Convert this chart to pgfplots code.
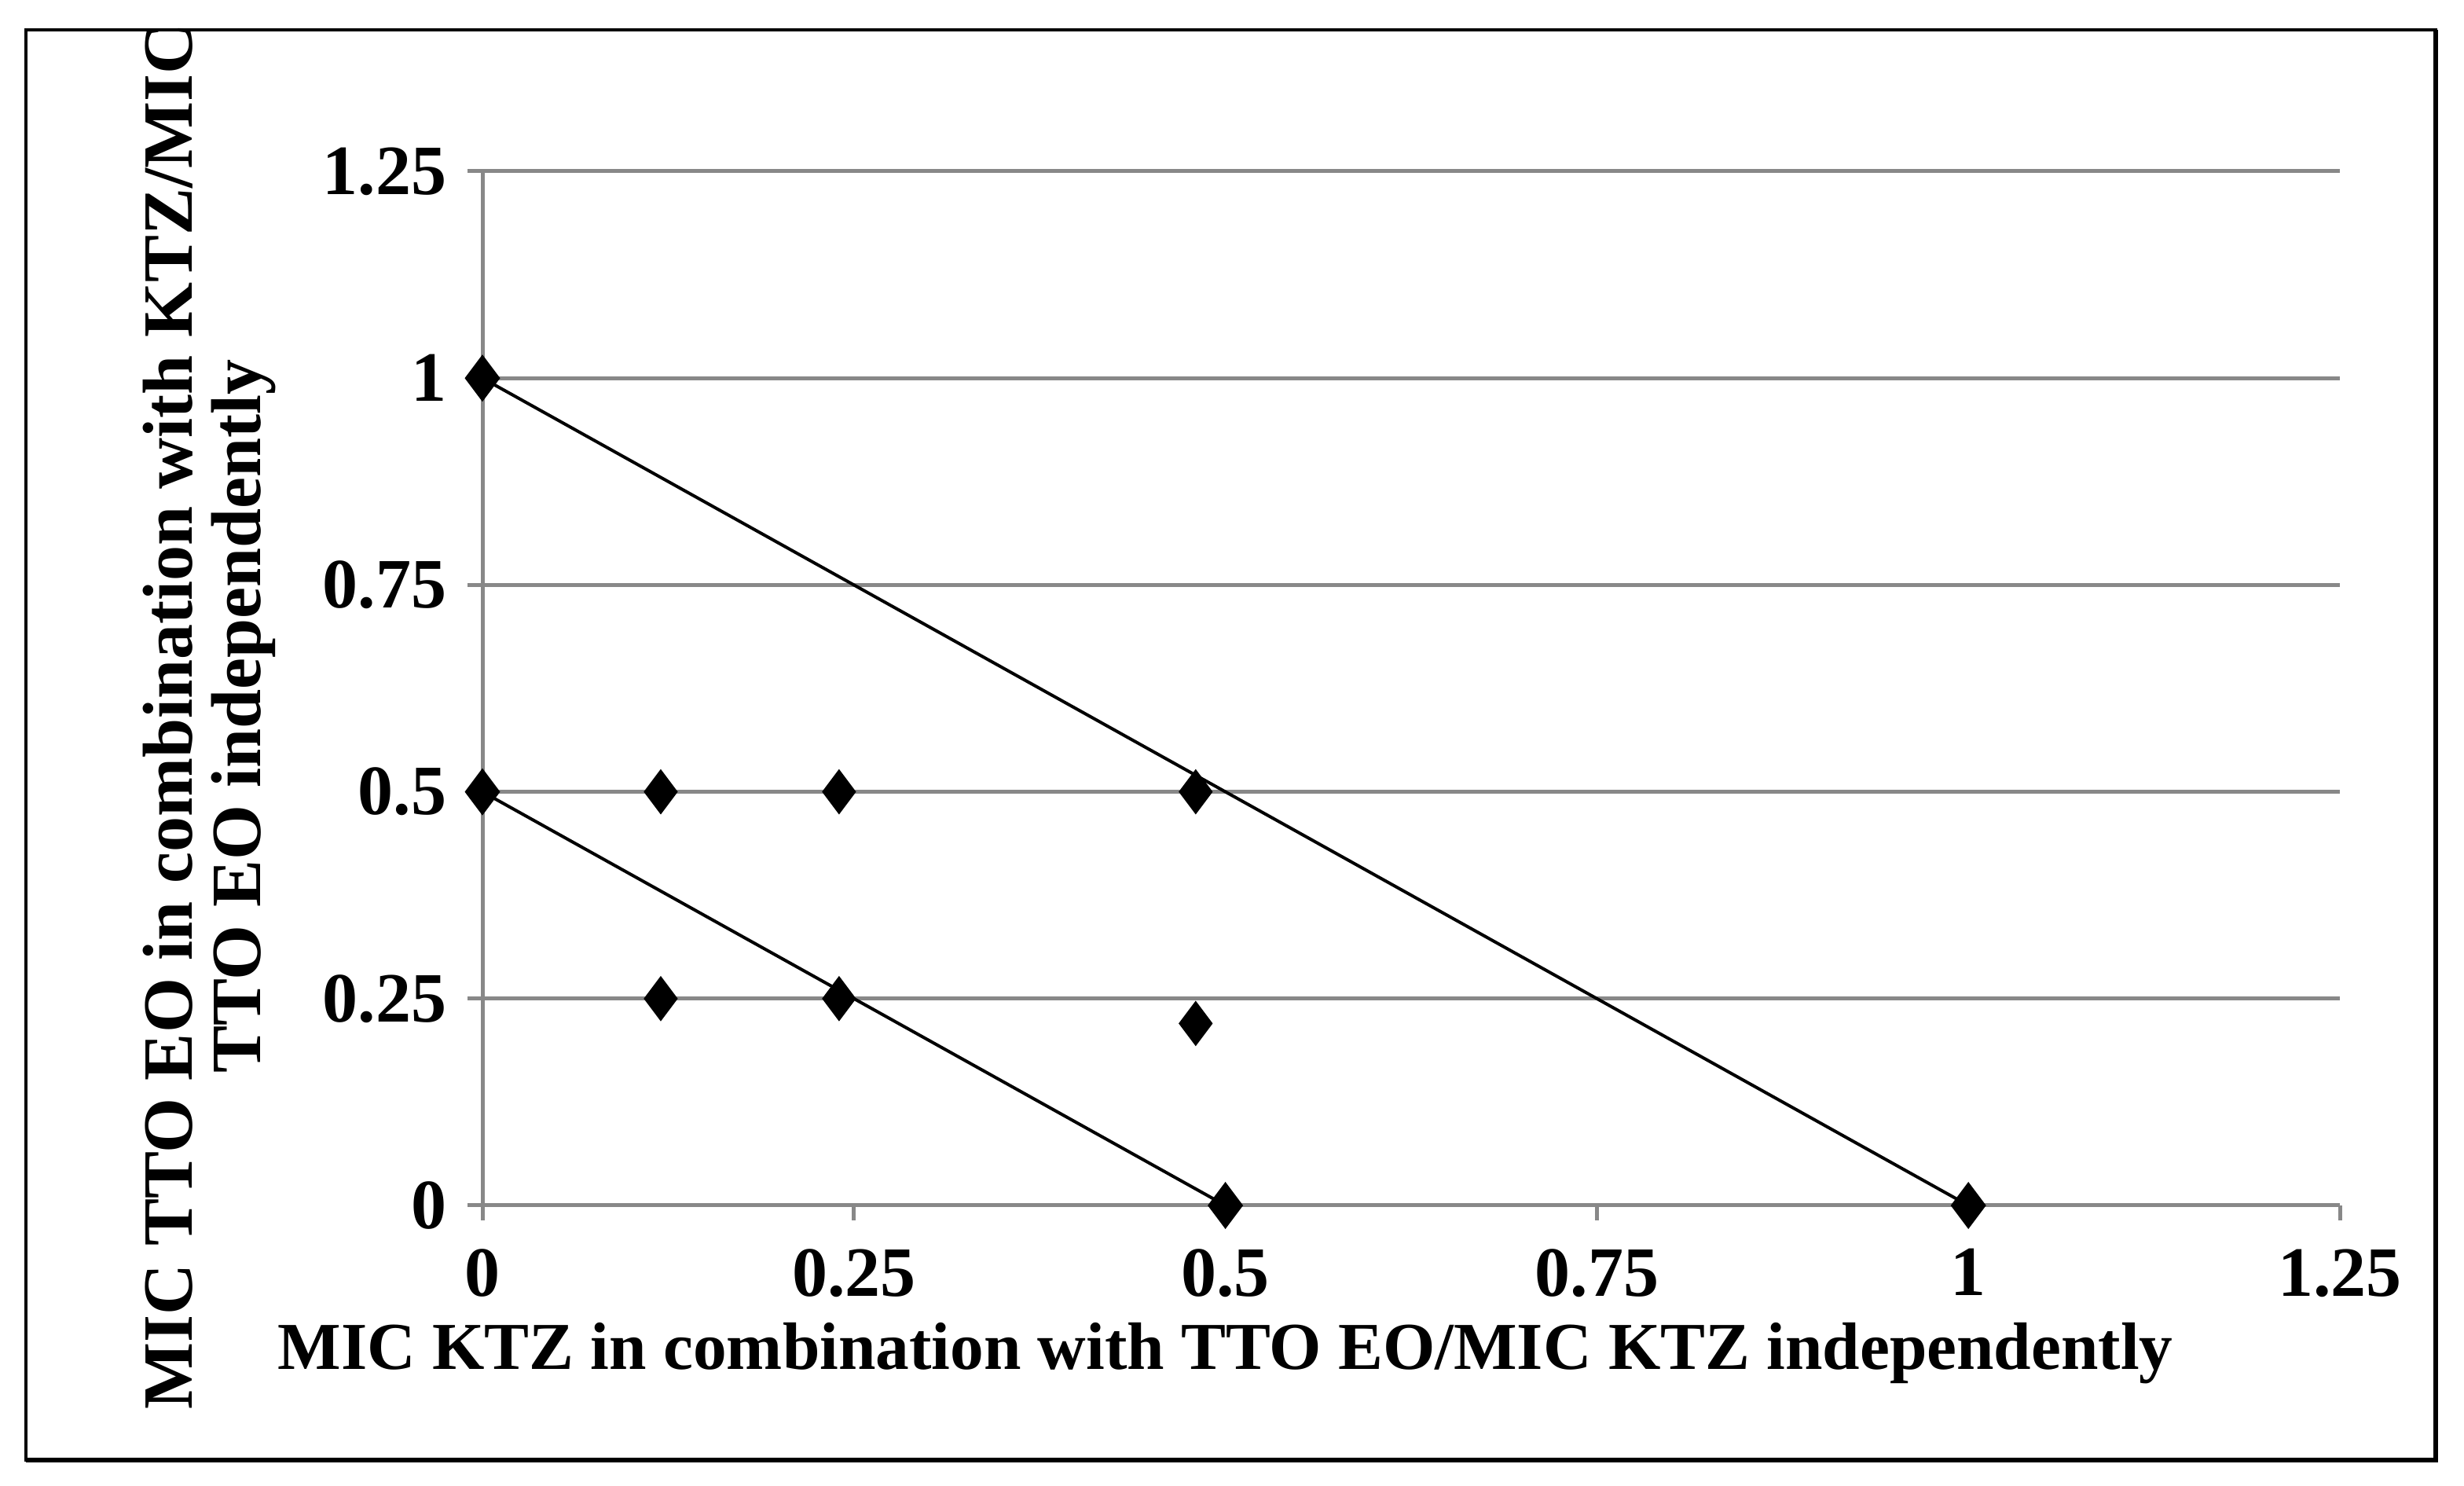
\documentclass[border=0pt]{standalone}
\usepackage{fontspec}
\setmainfont{Liberation Serif}
\usepackage{pgfplots}
\pgfplotsset{compat=1.18}

\definecolor{gridgray}{RGB}{136,136,136}

\begin{document}
\begin{tikzpicture}
  % page box and frame
  \path[use as bounding box] (0,0) rectangle (470.4pt,283.5pt);
  \draw[line width=0.6pt] (5pt,277.8pt) rectangle (465pt,4.8pt);
  \draw[line width=1pt] (5pt,4.8pt) -- (465pt,4.8pt) -- (465pt,277.8pt);

  \begin{axis}[
      at={(92.1pt,53.4pt)}, anchor=south west,
      scale only axis,
      width=354.6pt, height=197.4pt,
      xmin=0, xmax=1.25, ymin=0, ymax=1.25,
      axis lines*=left,
      axis line style={gridgray, line width=0.75pt},
      xtick={0,0.25,0.5,0.75,1,1.25},
      ytick={0,0.25,0.5,0.75,1,1.25},
      xticklabels={0,0.25,0.5,0.75,1,1.25},
      yticklabels={0,0.25,0.5,0.75,1,1.25},
      tick align=outside,
      major tick length=2.8pt,
      tick style={gridgray, line width=0.75pt},
      ymajorgrids,
      major grid style={gridgray, line width=0.75pt},
      ticklabel style={font=\fontsize{13.5}{13}\selectfont\bfseries},
      xticklabel style={yshift=-2pt},
      yticklabel style={xshift=-0.5pt},
      label style={font=\fontsize{13.5}{13}\selectfont\bfseries},
      xlabel={MIC KTZ in combination with TTO EO/MIC KTZ independently},
      xlabel style={at={(rel axis cs:0.40,-0.143)}, anchor=center,
                    font=\fontsize{12.8}{13}\selectfont\bfseries},
      ylabel={MIC TTO EO in combination with KTZ/MIC\\TTO EO independently},
      ylabel style={at={(rel axis cs:-0.147,0.473)}, anchor=center, align=center},
      clip=false,
      mark size=4pt,
    ]
    % FIC isobole lines
    \addplot[black, line width=0.6pt, mark=diamond*, mark options={fill=black}]
      coordinates {(0,1) (1,0)};
    \addplot[black, line width=0.6pt, mark=diamond*, mark options={fill=black}]
      coordinates {(0,0.5) (0.5,0)};
    % combination points
    \addplot[only marks, black, mark=diamond*, mark options={fill=black}]
      coordinates {(0.12,0.5) (0.24,0.5) (0.48,0.5)
                   (0.12,0.25) (0.24,0.25) (0.48,0.22)};
  \end{axis}
\end{tikzpicture}
\end{document}
